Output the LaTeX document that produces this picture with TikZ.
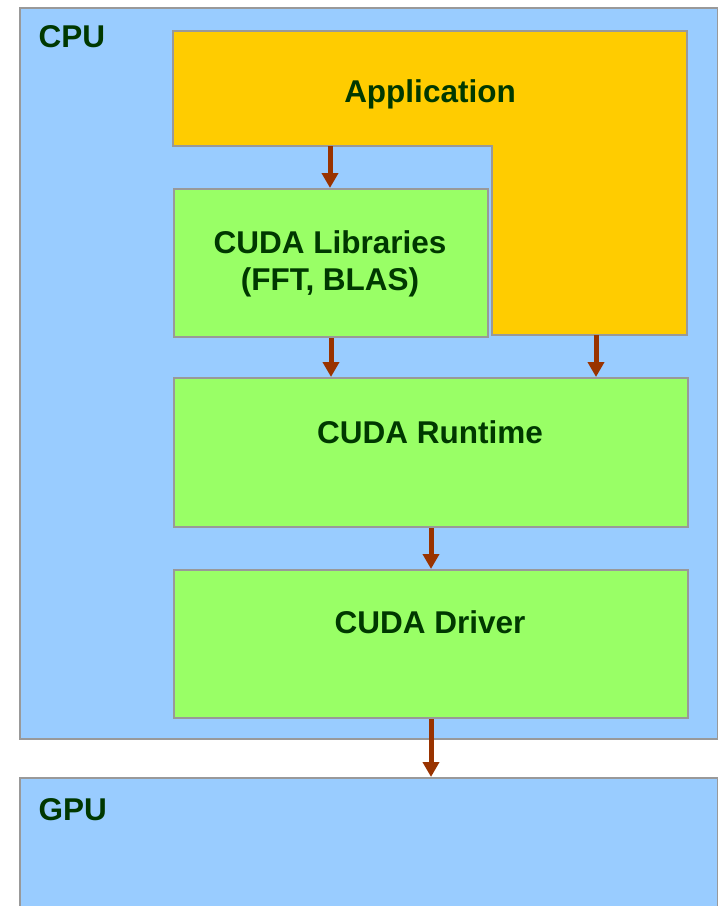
\documentclass[tikz,border=0pt]{standalone}
\usepackage{fontspec}
\setmainfont{Liberation Sans}
\usetikzlibrary{arrows.meta,positioning}
\definecolor{hostblue}{RGB}{153,204,255}
\definecolor{appyellow}{RGB}{255,204,0}
\definecolor{layergreen}{RGB}{153,255,102}
\definecolor{edgegray}{RGB}{153,153,153}
\definecolor{labelgreen}{RGB}{0,56,0}
\definecolor{flowbrown}{RGB}{153,51,0}

\tikzset{
  box/.style={draw=edgegray,line width=2pt,inner sep=0pt,anchor=north west},
  hostbox/.style={box,fill=hostblue},
  layerbox/.style={box,fill=layergreen},
  lbl/.style={text=labelgreen,inner sep=0pt,anchor=base,align=center,
    font=\fontsize{31.5}{36.5}\selectfont\bfseries},
  flow/.style={-{Triangle[width=16pt,length=15pt]},line width=5pt,flowbrown},
}

\begin{document}
\begin{tikzpicture}[x=1pt,y=-1pt]
    \clip (0,0) rectangle (718,906);
    \fill[white] (0,0) rectangle (718,906);

    % host and device
    \node[hostbox,minimum width=698pt,minimum height=731pt] (cpu) at (19,7) {};
    \node[hostbox,minimum width=698pt,minimum height=160pt] (gpu) at (19,777) {};
    \node[lbl,anchor=base west] (cpulbl) at (38.5,47.5) {CPU};
    \node[lbl,anchor=base west] (gpulbl) at (38.5,820) {GPU};

    % application (L-shaped)
    \draw[draw=edgegray,line width=2pt,fill=appyellow]
        (173,31) -- (687,31) -- (687,335) -- (492,335) -- (492,146) -- (173,146) -- cycle;
    \node[lbl] (applbl) at (430,102.5) {Application};
    \coordinate (appL) at (330,146);
    \coordinate (appR) at (596,335);

    % software layers
    \node[layerbox,minimum width=314pt,minimum height=148pt] (lib) at (173,188) {};
    \node[layerbox,minimum width=514pt,minimum height=149pt] (runtime) at (173,377) {};
    \node[layerbox,minimum width=514pt,minimum height=148pt] (driver) at (173,569) {};
    \node[lbl] (liblbl) at (330,290) {CUDA Libraries\\(FFT, BLAS)};
    \node[lbl] (rtlbl) at (430,443) {CUDA Runtime};
    \node[lbl] (drvlbl) at (430,633) {CUDA Driver};

    % calls
    \draw[flow] (appL) -- (appL |- lib.north);
    \draw[flow] (lib.south) -- (runtime.north -| lib.south);
    \draw[flow] (appR) -- (runtime.north -| appR);
    \draw[flow] (runtime.south) -- (driver.north);
    \draw[flow] (driver.south) -- (gpu.north -| driver.south);
\end{tikzpicture}
\end{document}
